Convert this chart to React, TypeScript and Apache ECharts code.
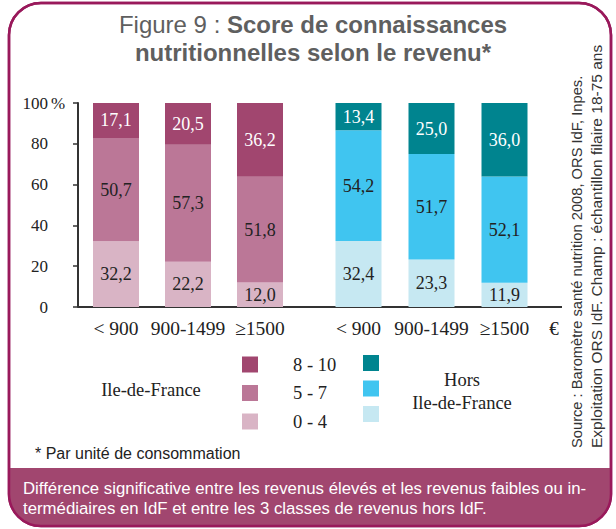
import React, { useEffect, useRef } from "react";
import * as echarts from "echarts";

const categories = ["< 900", "900-1499", "≥1500"];
const scoreClasses = ["8 - 10", "5 - 7", "0 - 4"];
const idfHigh = [17.1, 20.5, 36.2];
const idfMid = [50.7, 57.3, 51.8];
const idfLow = [32.2, 22.2, 12.0];
const horsHigh = [13.4, 25.0, 36.0];
const horsMid = [54.2, 51.7, 52.1];
const horsLow = [32.4, 23.3, 11.9];
const yMin = 0;
const yMax = 100;
const yInterval = 20;

const idfColors = ["#a1466f", "#bb7797", "#d9b4c5"];
const horsColors = ["#00848f", "#40c5f0", "#c6e8f2"];

const SERIF = "'Liberation Serif', 'Times New Roman', serif";
const SANS = "'Liberation Sans', Arial, sans-serif";

const fmt = (v: number) => v.toFixed(1).replace(".", ",");

export default function App() {
  const ref = useRef<HTMLDivElement>(null);
  useEffect(() => {
    if (!ref.current) return;
    const chart = echarts.init(ref.current, null, { renderer: "svg" });

    const mkSeries = (
      prefix: string,
      data: number[][],
      colors: string[],
      gridIdx: number
    ) =>
      [2, 1, 0].map((k) => ({
        name: `${prefix} ${scoreClasses[k]}`,
        type: "bar",
        stack: prefix,
        xAxisIndex: gridIdx,
        yAxisIndex: gridIdx,
        barWidth: 46,
        data: data[k],
        itemStyle: { color: colors[k] },
        label: {
          show: true,
          position: "inside",
          fontFamily: SERIF,
          fontSize: 18,
          color: k === 0 ? "#ffffff" : "#222222",
          formatter: (p: any) => fmt(p.value),
        },
      }));

    const xAxisBase = {
      type: "category",
      data: categories,
      axisLine: { show: false },
      axisTick: { show: false },
      axisLabel: {
        fontFamily: SERIF,
        fontSize: 19.5,
        color: "#222",
        margin: 11,
        interval: 0,
      },
    };

    const option: any = {
      animation: false,
      backgroundColor: "#ffffff",
      grid: [
        { left: 80, top: 103, width: 216, height: 204 },
        { left: 322, top: 103, width: 219, height: 204 },
      ],
      xAxis: [
        { ...xAxisBase, gridIndex: 0 },
        { ...xAxisBase, gridIndex: 1 },
      ],
      yAxis: [
        {
          type: "value",
          gridIndex: 0,
          min: yMin,
          max: yMax,
          interval: yInterval,
          offset: 2,
          splitLine: { show: false },
          axisLine: { show: true, lineStyle: { color: "#333", width: 2 } },
          axisTick: {
            show: true,
            length: 5,
            lineStyle: { color: "#333", width: 1.5 },
          },
          axisLabel: {
            fontFamily: SERIF,
            fontSize: 17,
            color: "#222",
            margin: 30,
          },
        },
        {
          type: "value",
          gridIndex: 1,
          min: yMin,
          max: yMax,
          interval: yInterval,
          show: false,
          splitLine: { show: false },
        },
      ],
      legend: [
        {
          orient: "vertical",
          left: 242,
          top: 355,
          padding: 0,
          itemWidth: 16,
          itemHeight: 16,
          itemGap: 9.5,
          icon: "rect",
          selectedMode: false,
          data: scoreClasses.map((c) => `IdF ${c}`),
          formatter: (n: string) => n.replace("IdF ", ""),
          textStyle: {
            fontFamily: SERIF,
            fontSize: 18.5,
            color: "#222",
            lineHeight: 16,
            padding: [0, 0, 0, 30],
          },
        },
        {
          orient: "vertical",
          left: 363,
          top: 355,
          padding: 0,
          itemWidth: 16,
          itemHeight: 16,
          itemGap: 9.5,
          icon: "rect",
          selectedMode: false,
          data: scoreClasses.map((c) => `Hors ${c}`),
          formatter: () => "",
          textStyle: { fontSize: 1, lineHeight: 16 },
        },
      ],
      series: [
        ...mkSeries("IdF", [idfHigh, idfMid, idfLow], idfColors, 0),
        ...mkSeries("Hors", [horsHigh, horsMid, horsLow], horsColors, 1),
      ],
      graphic: [
        {
          type: "rect",
          z: -10,
          silent: true,
          shape: { x: 9, y: 3, width: 602, height: 523, r: 32 },
          style: { fill: "#ffffff", stroke: "#99195b", lineWidth: 2.5 },
        },
        {
          type: "rect",
          z: -9,
          silent: true,
          shape: { x: 9, y: 468, width: 602, height: 58, r: [0, 0, 32, 32] },
          style: { fill: "#a1466f" },
        },
        {
          type: "rect",
          z: -8,
          silent: true,
          shape: { x: 9, y: 3, width: 602, height: 523, r: 32 },
          style: { fill: "none", stroke: "#99195b", lineWidth: 2.5 },
        },
        {
          type: "text",
          x: 313,
          y: 24,
          style: {
            text: "{r|Figure 9 : }{b|Score de connaissances}",
            align: "center",
            verticalAlign: "middle",
            fill: "#5f5f5f",
            rich: {
              r: {
                fontFamily: SANS,
                fontSize: 24,
                fill: "#5f5f5f",
                color: "#5f5f5f",
              },
              b: {
                fontFamily: SANS,
                fontSize: 24,
                fontWeight: "bold",
                fill: "#5f5f5f",
                color: "#5f5f5f",
              },
            },
          },
        },
        {
          type: "text",
          x: 313,
          y: 52,
          style: {
            text: "nutritionnelles selon le revenu*",
            align: "center",
            verticalAlign: "middle",
            fontFamily: SANS,
            fontSize: 24,
            fontWeight: "bold",
            fill: "#5f5f5f",
          },
        },
        {
          type: "text",
          x: 51,
          y: 103,
          style: {
            text: "%",
            align: "left",
            verticalAlign: "middle",
            fontFamily: SERIF,
            fontSize: 17,
            fill: "#222",
          },
        },
        {
          type: "line",
          silent: true,
          shape: { x1: 78, y1: 307, x2: 562, y2: 307 },
          style: { stroke: "#333", lineWidth: 2 },
        },
        {
          type: "text",
          x: 554,
          y: 328,
          style: {
            text: "€",
            align: "center",
            verticalAlign: "middle",
            fontFamily: SERIF,
            fontSize: 19,
            fill: "#222",
          },
        },
        {
          type: "text",
          x: 151,
          y: 390,
          style: {
            text: "Ile-de-France",
            align: "center",
            verticalAlign: "middle",
            fontFamily: SERIF,
            fontSize: 18.5,
            fill: "#222",
          },
        },
        {
          type: "text",
          x: 462,
          y: 391,
          style: {
            text: "Hors\nIle-de-France",
            align: "center",
            verticalAlign: "middle",
            lineHeight: 23,
            fontFamily: SERIF,
            fontSize: 18.5,
            fill: "#222",
          },
        },
        {
          type: "text",
          x: 35,
          y: 453,
          style: {
            text: "* Par unité de consommation",
            align: "left",
            verticalAlign: "middle",
            fontFamily: SANS,
            fontSize: 16,
            fill: "#222",
          },
        },
        {
          type: "text",
          x: 23,
          y: 498,
          style: {
            text:
              "Différence significative entre les revenus élevés et les revenus faibles ou in-\ntermédiaires en IdF et entre les 3 classes de revenus hors IdF.",
            align: "left",
            verticalAlign: "middle",
            lineHeight: 20,
            fontFamily: SANS,
            fontSize: 16.8,
            fill: "#ffffff",
          },
        },
        {
          type: "text",
          x: 577,
          y: 448,
          rotation: Math.PI / 2,
          style: {
            text: "Source : Baromètre santé nutrition 2008, ORS IdF, Inpes.",
            align: "left",
            verticalAlign: "middle",
            fontFamily: SANS,
            fontSize: 14.7,
            fill: "#333",
          },
        },
        {
          type: "text",
          x: 596,
          y: 448,
          rotation: Math.PI / 2,
          style: {
            text: "Exploitation ORS IdF. Champ : échantillon filaire 18-75 ans",
            align: "left",
            verticalAlign: "middle",
            fontFamily: SANS,
            fontSize: 15.5,
            fill: "#333",
          },
        },
      ],
    };
    chart.setOption(option);
    return () => chart.dispose();
  }, []);

  return (
    <div
      ref={ref}
      style={{ position: "fixed", left: 0, top: 0, width: 616, height: 529 }}
    />
  );
}
